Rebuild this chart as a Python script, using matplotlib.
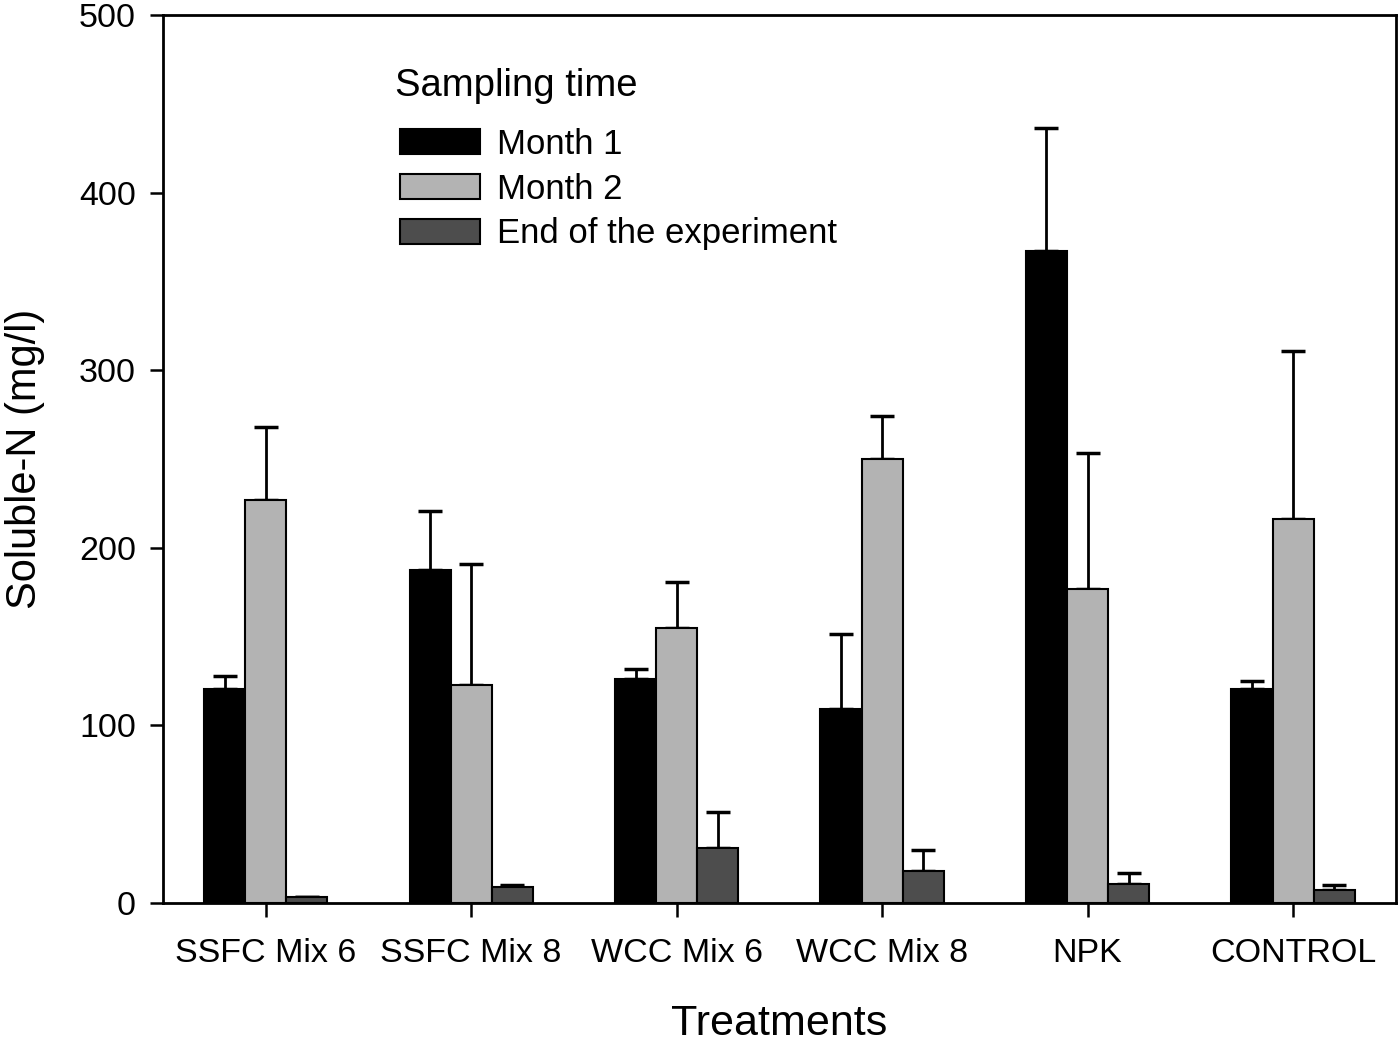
import numpy as np
import matplotlib
matplotlib.use("Agg")
import matplotlib.pyplot as plt

plt.rcParams['font.family'] = ['Liberation Sans', 'DejaVu Sans']

# dados
tratamentos = ["SSFC Mix 6", "SSFC Mix 8", "WCC Mix 6", "WCC Mix 8", "NPK", "CONTROL"]
series = ["Month 1", "Month 2", "End of the experiment"]

mes1 = [120.5, 187.5, 126, 109, 367, 120.5]
mes1_err = [7.5, 33.5, 5.5, 42.5, 69.5, 4.5]

mes2 = [227, 123, 155, 250, 177, 216]
mes2_err = [41, 68, 25.5, 24.5, 76.5, 95]

fim = [3.4, 9.2, 31, 18, 10.7, 7.3]
fim_err = [0, 1, 20, 12, 6, 3]

cores = ["#000000", "#b3b3b3", "#4d4d4d"]

# -----------------------------
# GRÁFICO
# -----------------------------

fig, ax = plt.subplots(figsize=(14, 10.43), dpi=100)
fig.subplots_adjust(left=0.1164, right=0.997, top=0.9856, bottom=0.1342)

x = np.arange(len(tratamentos))
w = 0.2

valores = [mes1, mes2, fim]
erros = [mes1_err, mes2_err, fim_err]

for i, (v, e) in enumerate(zip(valores, erros)):
    pos = x + (i - 1) * w
    ax.bar(pos, v, width=w, color=cores[i], edgecolor="black",
           linewidth=1.5, label=series[i], zorder=2)
    ax.errorbar(pos, v, yerr=[np.zeros(len(e)), e], fmt="none",
                ecolor="black", elinewidth=2, capsize=8.5, capthick=2.5,
                zorder=1)

ax.set_xlim(-0.5, 5.5)
ax.set_ylim(0, 500)
ax.set_yticks([0, 100, 200, 300, 400, 500])
ax.set_xticks(x)
ax.set_xticklabels(tratamentos)

ax.tick_params(axis="both", direction="out", labelsize=24.5, width=1.8)
ax.tick_params(axis="x", pad=15, length=10)
ax.tick_params(axis="y", pad=10, length=9.5)
for s in ax.spines.values():
    s.set_linewidth(2)

ax.set_xlabel("Treatments", fontsize=31)
ax.set_ylabel("Soluble-N (mg/l)", fontsize=30)
ax.xaxis.set_label_coords(0.5, -0.114)
ax.yaxis.set_label_coords(-0.096, 0.5)

# legenda com título separado
ax.text(0.188, 0.92, "Sampling time", transform=ax.transAxes,
        fontsize=27.5, ha="left", va="center")
ax.legend(loc="upper left", bbox_to_anchor=(0.192, 0.873), frameon=False,
          fontsize=25, handlelength=2.3, handleheight=0.75,
          labelspacing=0.34, handletextpad=0.5, borderpad=0,
          borderaxespad=0)

plt.savefig("out.png")
